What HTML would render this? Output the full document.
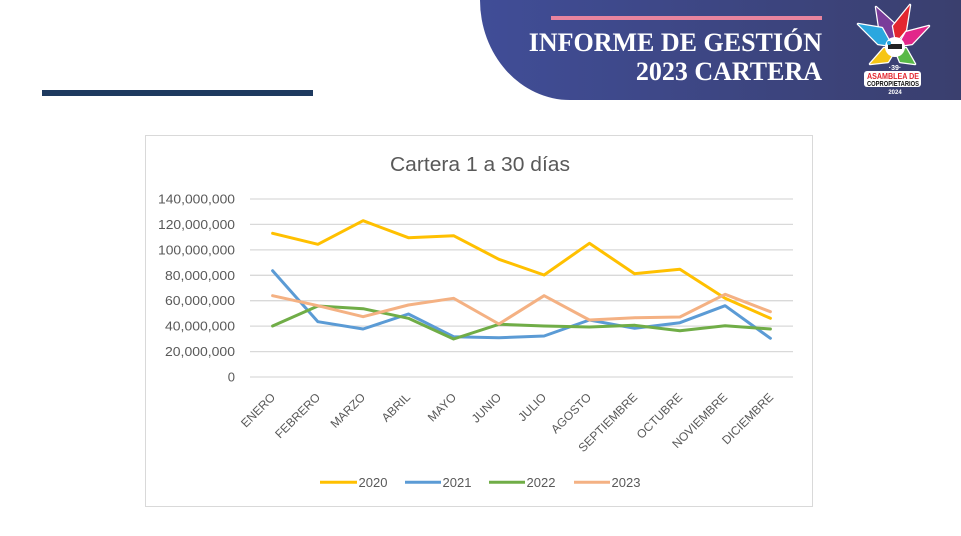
<!DOCTYPE html>
<html>
<head>
<meta charset="utf-8">
<style>
  html,body{margin:0;padding:0;background:#fff;}
  body{width:961px;height:536px;overflow:hidden;}
  svg{display:block;}
</style>
</head>
<body>
<svg width="961" height="536" viewBox="0 0 961 536" xmlns="http://www.w3.org/2000/svg">
  <defs>
    <linearGradient id="hdr" x1="0" y1="0" x2="1" y2="0">
      <stop offset="0" stop-color="#404d97"/>
      <stop offset="1" stop-color="#3a3f6e"/>
    </linearGradient>
  </defs>
  <rect x="0" y="0" width="961" height="536" fill="#ffffff"/>

  <!-- header -->
  <path d="M480,0 H961 V100 H570 A90,100 0 0 1 480,0 Z" fill="url(#hdr)"/>
  <rect x="551" y="16" width="271" height="4" fill="#e8849e"/>
  <text x="822" y="51" text-anchor="end" font-family="Liberation Serif, serif" font-weight="bold" font-size="26" fill="#ffffff">INFORME DE GESTIÓN</text>
  <text x="822" y="80" text-anchor="end" font-family="Liberation Serif, serif" font-weight="bold" font-size="26" fill="#ffffff">2023 CARTERA</text>

  <!-- logo -->
  <g stroke="#ffffff" stroke-width="2.5" stroke-linejoin="round" paint-order="stroke">
    <polygon points="876,7 897,26 896,42 880,34" fill="#7a3d9a"/>
    <polygon points="910,5 906,30 896,42 893,26" fill="#e3262f"/>
    <polygon points="858,24 882,28 892,46 878,44" fill="#2aa7df"/>
    <polygon points="929,26 912,44 898,46 906,32" fill="#e2268a"/>
    <polygon points="870,64 884,48 894,52 888,62" fill="#f6c515"/>
    <polygon points="915,64 900,62 896,52 906,48" fill="#58b947"/>
  </g>
  <circle cx="895" cy="47" r="10" fill="#ffffff"/>
  <rect x="888" y="44" width="14" height="5" fill="#222"/>
  <circle cx="889" cy="43" r="2" fill="#2aa7df"/>
  <rect x="864" y="71" width="57" height="16" rx="3" fill="#ffffff"/>
  <text x="895" y="70" text-anchor="middle" font-family="Liberation Sans, sans-serif" font-weight="bold" font-size="7" fill="#ffffff">·39·</text>
  <text x="893" y="79" text-anchor="middle" font-family="Liberation Sans, sans-serif" font-weight="bold" font-size="8" fill="#e3262f" textLength="52" lengthAdjust="spacingAndGlyphs">ASAMBLEA DE</text>
  <text x="893" y="86" text-anchor="middle" font-family="Liberation Sans, sans-serif" font-weight="bold" font-size="7" fill="#111" textLength="52" lengthAdjust="spacingAndGlyphs">COPROPIETARIOS</text>
  <text x="895" y="94" text-anchor="middle" font-family="Liberation Sans, sans-serif" font-weight="bold" font-size="6" fill="#ffffff">2024</text>

  <!-- dark bar -->
  <rect x="42" y="90" width="271" height="6" fill="#1e3a5f"/>

  <!-- chart frame -->
  <rect x="145.5" y="135.5" width="667" height="371" fill="#ffffff" stroke="#d9d9d9" stroke-width="1"/>

  <!-- title -->
  <text x="480" y="171" text-anchor="middle" font-family="Liberation Sans, sans-serif" font-size="20" fill="#595959" textLength="180" lengthAdjust="spacingAndGlyphs">Cartera 1 a 30 días</text>

  <!-- gridlines -->
  <g stroke="#d9d9d9" stroke-width="1.3">
    <line x1="250" y1="199" x2="793" y2="199"/>
    <line x1="250" y1="224.4" x2="793" y2="224.4"/>
    <line x1="250" y1="249.9" x2="793" y2="249.9"/>
    <line x1="250" y1="275.3" x2="793" y2="275.3"/>
    <line x1="250" y1="300.7" x2="793" y2="300.7"/>
    <line x1="250" y1="326.1" x2="793" y2="326.1"/>
    <line x1="250" y1="351.6" x2="793" y2="351.6"/>
    <line x1="250" y1="377" x2="793" y2="377"/>
  </g>

  <!-- y labels -->
  <g font-family="Liberation Sans, sans-serif" font-size="13" fill="#595959" text-anchor="end">
    <text x="235" y="203.5" textLength="77" lengthAdjust="spacingAndGlyphs">140,000,000</text>
    <text x="235" y="228.9" textLength="77" lengthAdjust="spacingAndGlyphs">120,000,000</text>
    <text x="235" y="254.4" textLength="77" lengthAdjust="spacingAndGlyphs">100,000,000</text>
    <text x="235" y="279.8" textLength="70" lengthAdjust="spacingAndGlyphs">80,000,000</text>
    <text x="235" y="305.2" textLength="70" lengthAdjust="spacingAndGlyphs">60,000,000</text>
    <text x="235" y="330.6" textLength="70" lengthAdjust="spacingAndGlyphs">40,000,000</text>
    <text x="235" y="356.1" textLength="70" lengthAdjust="spacingAndGlyphs">20,000,000</text>
    <text x="235" y="381.5">0</text>
  </g>

  <!-- x labels -->
  <g font-family="Liberation Sans, sans-serif" font-size="12" fill="#595959" text-anchor="end">
    <text transform="translate(276,398) rotate(-45)">ENERO</text>
    <text transform="translate(321,398) rotate(-45)">FEBRERO</text>
    <text transform="translate(366,398) rotate(-45)">MARZO</text>
    <text transform="translate(411,398) rotate(-45)">ABRIL</text>
    <text transform="translate(457,398) rotate(-45)">MAYO</text>
    <text transform="translate(502,398) rotate(-45)">JUNIO</text>
    <text transform="translate(547,398) rotate(-45)">JULIO</text>
    <text transform="translate(592,398) rotate(-45)">AGOSTO</text>
    <text transform="translate(638,398) rotate(-45)">SEPTIEMBRE</text>
    <text transform="translate(683,398) rotate(-45)">OCTUBRE</text>
    <text transform="translate(728,398) rotate(-45)">NOVIEMBRE</text>
    <text transform="translate(774,398) rotate(-45)">DICIEMBRE</text>
  </g>

  <!-- series -->
  <g fill="none" stroke-width="3" stroke-linejoin="round" stroke-linecap="round">
    <polyline stroke="#FFC000" points="272.6,233.3 317.9,244.3 363.1,220.7 408.4,237.7 453.6,235.7 498.9,259.3 544.1,275 589.4,243.3 634.6,273.7 679.9,269.3 725.1,298.3 770.4,318.3"/>
    <polyline stroke="#5B9BD5" points="272.6,270.7 317.9,321.7 363.1,329 408.4,314 453.6,336.7 498.9,337.7 544.1,336 589.4,320 634.6,328.3 679.9,322.7 725.1,305.7 770.4,338.3"/>
    <polyline stroke="#70AD47" points="272.6,326 317.9,306 363.1,308.7 408.4,318.3 453.6,339 498.9,324.3 544.1,326 589.4,327 634.6,325.3 679.9,330.7 725.1,325.7 770.4,329"/>
    <polyline stroke="#F4B183" points="272.6,295.7 317.9,305.7 363.1,316.7 408.4,305 453.6,298.3 498.9,324 544.1,295.7 589.4,320 634.6,317.7 679.9,317 725.1,294.3 770.4,311.7"/>
  </g>

  <!-- legend -->
  <g stroke-width="3">
    <line x1="320" y1="482.3" x2="357" y2="482.3" stroke="#FFC000"/>
    <line x1="405" y1="482.3" x2="441" y2="482.3" stroke="#5B9BD5"/>
    <line x1="489" y1="482.3" x2="525" y2="482.3" stroke="#70AD47"/>
    <line x1="574" y1="482.3" x2="610" y2="482.3" stroke="#F4B183"/>
  </g>
  <g font-family="Liberation Sans, sans-serif" font-size="13" fill="#595959">
    <text x="358.5" y="487">2020</text>
    <text x="442.5" y="487">2021</text>
    <text x="526.5" y="487">2022</text>
    <text x="611.5" y="487">2023</text>
  </g>
</svg>
</body>
</html>
